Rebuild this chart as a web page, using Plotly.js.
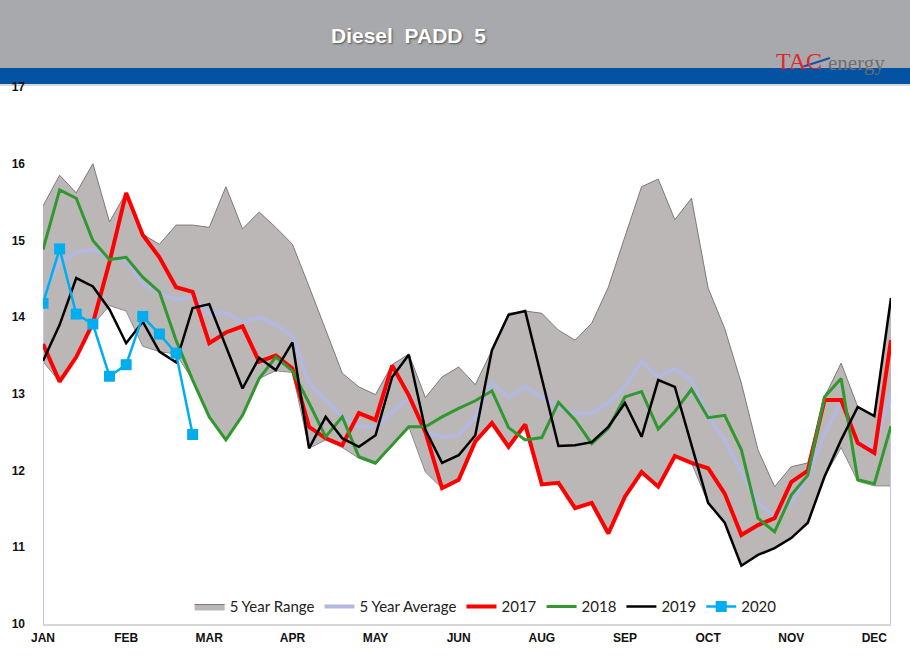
<!DOCTYPE html>
<html>
<head>
<meta charset="utf-8">
<script src="https://cdn.plot.ly/plotly-3.0.1.min.js"></script>
<style>
  html, body { margin: 0; padding: 0; background: #ffffff; }
  #chart { width: 910px; height: 661px; }
</style>
</head>
<body>
<div id="chart"></div>
<script>
// ---- Data (weekly points, 52 per year) ----
const tickLabels = ['JAN','FEB','MAR','APR','MAY','JUN','AUG','SEP','OCT','NOV','DEC'];

const rangeHigh = [15.45,15.85,15.62,16.0,15.24,15.62,15.08,14.95,15.2,15.2,15.17,15.7,15.15,15.37,15.17,14.95,
  14.4,13.83,13.27,13.09,12.99,13.38,13.52,12.95,13.22,13.35,13.12,13.57,14.05,14.08,14.05,13.83,13.7,13.92,
  14.39,15.05,15.7,15.8,15.27,15.55,14.38,13.85,13.14,12.27,11.79,12.05,12.1,12.96,13.4,12.83,12.72,14.25];

const rangeLow = [13.42,13.16,13.48,13.9,14.15,14.08,13.62,13.55,13.52,13.18,12.7,12.4,12.72,13.2,13.3,13.28,
  12.29,12.4,12.3,12.16,12.08,12.33,12.57,11.98,11.77,11.88,12.38,12.62,12.31,12.6,11.82,11.84,11.51,11.58,
  11.18,11.66,11.98,11.79,12.19,12.1,11.58,11.32,10.76,10.9,10.99,11.12,11.32,11.92,12.3,11.86,11.8,11.8];

const avg5 = [14.28,14.72,14.84,14.88,14.77,14.74,14.43,14.32,14.23,14.26,14.04,14.06,13.93,14.0,13.9,13.76,
  13.14,12.92,12.7,12.57,12.57,12.76,12.95,12.5,12.44,12.46,12.7,13.14,12.96,13.09,12.95,12.82,12.75,12.75,
  12.88,13.09,13.42,13.22,13.33,13.18,12.7,12.4,11.98,11.58,11.4,11.58,11.93,12.47,12.9,12.38,12.3,13.01];

const y2017 = [13.65,13.16,13.48,13.92,14.72,15.62,15.07,14.78,14.39,14.33,13.66,13.8,13.88,13.42,13.5,13.33,
  12.57,12.42,12.33,12.75,12.66,13.37,12.98,12.5,11.77,11.88,12.38,12.62,12.31,12.6,11.82,11.84,11.51,11.58,
  11.18,11.66,11.98,11.79,12.19,12.1,12.03,11.7,11.16,11.29,11.38,11.85,12.0,12.92,12.92,12.36,12.23,13.7];

const y2018 = [14.88,15.66,15.55,15.0,14.75,14.78,14.52,14.33,13.7,13.18,12.7,12.4,12.72,13.2,13.48,13.3,
  12.88,12.44,12.7,12.18,12.1,12.33,12.57,12.57,12.7,12.81,12.91,13.04,12.56,12.4,12.43,12.89,12.66,12.35,
  12.55,12.96,13.03,12.54,12.77,13.06,12.69,12.72,12.27,11.38,11.2,11.68,11.94,12.96,13.2,11.88,11.83,12.58];

const y2019 = [13.43,13.9,14.51,14.4,14.1,13.66,13.94,13.55,13.41,14.12,14.17,13.63,13.07,13.47,13.31,13.67,
  12.29,12.7,12.42,12.31,12.46,13.22,13.51,12.53,12.1,12.2,12.46,13.57,14.03,14.08,13.2,12.32,12.33,12.37,
  12.57,12.88,12.44,13.18,13.09,12.35,11.58,11.32,10.76,10.9,10.99,11.12,11.32,11.92,12.4,12.83,12.71,14.25];

const y2020 = [14.18,14.89,14.04,13.91,13.23,13.38,14.01,13.78,13.53,12.47];

// ---- Build traces ----
const weeks = rangeHigh.map((_, i) => i);
const weeks2020 = y2020.map((_, i) => i);
const tickVals = tickLabels.map((_, k) => k * 5);

const traces = [
  { x: weeks, y: rangeLow, type: 'scatter', mode: 'lines', showlegend: false, hoverinfo: 'skip',
    line: { color: '#8e8a8a', width: 1 } },
  { x: weeks, y: rangeHigh, type: 'scatter', mode: 'lines', name: '5 Year Range', fill: 'tonexty',
    fillcolor: '#bbb7b6', line: { color: '#7d7979', width: 1 } },
  // end-edges of the average area
  { x: [weeks[0], weeks[0]], y: [10, avg5[0]], type: 'scatter', mode: 'lines', showlegend: false, hoverinfo: 'skip',
    line: { color: '#c3c5e3', width: 2 } },
  { x: [weeks[weeks.length-1], weeks[weeks.length-1]], y: [10, avg5[avg5.length-1]], type: 'scatter', mode: 'lines',
    showlegend: false, hoverinfo: 'skip', line: { color: '#c3c5e3', width: 2 } },
  { x: weeks, y: avg5, type: 'scatter', mode: 'lines', name: '5 Year Average',
    line: { color: '#b4b7de', width: 4 } },
  { x: weeks, y: y2017, type: 'scatter', mode: 'lines', name: '2017',
    line: { color: '#ff0000', width: 4 } },
  { x: weeks, y: y2018, type: 'scatter', mode: 'lines', name: '2018',
    line: { color: '#30982f', width: 3 } },
  { x: weeks, y: y2019, type: 'scatter', mode: 'lines', name: '2019',
    line: { color: '#000000', width: 2.5 } },
  { x: weeks2020, y: y2020, type: 'scatter', mode: 'lines+markers', name: '2020',
    line: { color: '#00aeef', width: 2.5 }, marker: { symbol: 'square', size: 11, color: '#00aeef' } }
];

const layout = {
  width: 910, height: 661,
  margin: { l: 43, r: 19, t: 87, b: 37 },
  paper_bgcolor: '#ffffff', plot_bgcolor: 'rgba(0,0,0,0)',
  showlegend: true,
  legend: {
    orientation: 'h', traceorder: 'normal', x: 0.522, xanchor: 'center', y: 0.032, yanchor: 'middle',
    bgcolor: 'rgba(0,0,0,0)', font: { family: 'Lato, "Open Sans", sans-serif', size: 15, color: '#222' },
    itemwidth: 30, tracegroupgap: 0
  },
  xaxis: {
    range: [0, 51], tickmode: 'array', tickvals: tickVals, ticktext: tickLabels,
    showgrid: false, zeroline: false, showline: true, linecolor: '#d6d6d6', linewidth: 2,
    ticks: '', ticklabelstandoff: 2,
    tickfont: { family: 'Arial, "Liberation Sans", sans-serif', size: 12, color: '#111', weight: 'bold' }
  },
  yaxis: {
    range: [10, 17], dtick: 1, showgrid: false, zeroline: false, showline: false,
    ticks: '', ticklabelstandoff: 17,
    tickfont: { family: 'Arial, "Liberation Sans", sans-serif', size: 12, color: '#111', weight: 'bold' }
  },
  shapes: [
    { type: 'rect', xref: 'paper', yref: 'paper', x0: -0.1, x1: 1.1, y0: (624 - 68) / 537, y1: 1.3,
      fillcolor: '#a8a9ac', line: { width: 0 }, layer: 'below' },
    { type: 'rect', xref: 'paper', yref: 'paper', x0: -0.1, x1: 1.1, y0: (624 - 84) / 537, y1: (624 - 68) / 537,
      fillcolor: '#0453a2', line: { width: 0 }, layer: 'below' },
    { type: 'rect', xref: 'paper', yref: 'paper', x0: -0.1, x1: 1.1, y0: (624 - 86) / 537, y1: (624 - 84) / 537,
      fillcolor: '#d3d7de', line: { width: 0 }, layer: 'below' },
    // logo swoosh
    { type: 'line', xref: 'paper', yref: 'paper', x0: (802 - 43) / 848, x1: (830 - 43) / 848,
      y0: (624 - 67) / 537, y1: (624 - 58) / 537, line: { color: '#1f4fa0', width: 2 } }
  ],
  annotations: [
    { text: 'Diesel  PADD  5', xref: 'paper', yref: 'paper', x: (408 - 43) / 848, y: (624 - 35) / 537,
      xanchor: 'center', yanchor: 'middle', showarrow: false,
      font: { family: 'Arial, "Liberation Sans", sans-serif', size: 21, color: '#ffffff', weight: 'bold',
              shadow: '1px 1px 2px #555' } },
    { text: 'TAC', xref: 'paper', yref: 'paper', x: (774 - 43) / 848, y: (624 - 61) / 537,
      xanchor: 'left', yanchor: 'middle', showarrow: false,
      font: { family: '"Liberation Serif", "DejaVu Serif", serif', size: 24, color: '#e0262f' } },
    { text: 'energy', xref: 'paper', yref: 'paper', x: (826 - 43) / 848, y: (624 - 63) / 537,
      xanchor: 'left', yanchor: 'middle', showarrow: false,
      font: { family: '"Liberation Serif", "DejaVu Serif", serif', size: 21, color: '#6d6e71' } }
  ]
};

Plotly.newPlot('chart', traces, layout, { displayModeBar: false, staticPlot: true });
</script>
</body>
</html>
